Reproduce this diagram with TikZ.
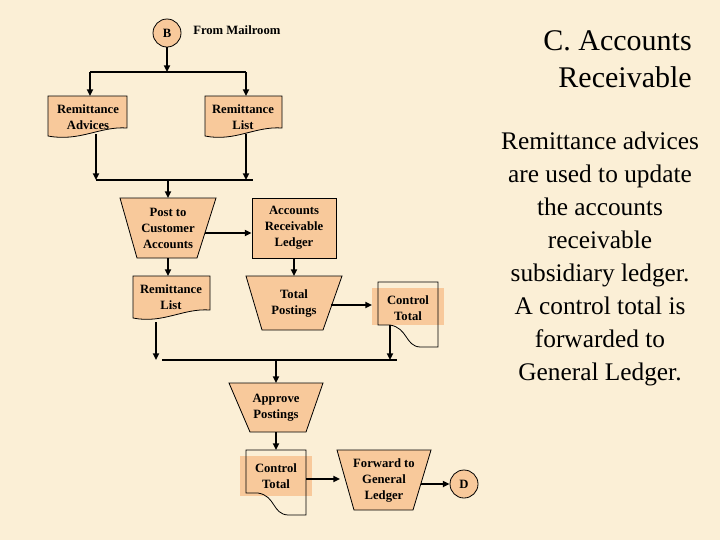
\documentclass[tikz,border=0pt]{standalone}
\usepackage{fontspec}
\setmainfont{Liberation Serif}
\usetikzlibrary{arrows.meta}
\definecolor{bg}{HTML}{FBEFD6}
\definecolor{fillc}{HTML}{F8C99B}
\begin{document}
\begin{tikzpicture}[x=0.75pt,y=-0.75pt,
  lbl/.style={font=\bfseries\fontsize{9.5}{12}\selectfont,align=center,inner sep=0pt},
  shp/.style={draw=black,fill=fillc,line width=0.6pt},
  outl/.style={draw=black,line width=0.6pt},
  ar/.style={line width=1.3pt,-{Triangle[length=5pt,width=4.5pt]}},
  ln/.style={line width=1.3pt},
  bus/.style={line width=0.9pt}]
\fill[bg] (0,0) rectangle (720,540);
\useasboundingbox (0,0) rectangle (720,540);
% circles
\node[shp,circle,minimum size=21pt,lbl] (B) at (167,33) {B};
\node[lbl,anchor=west] (fm) at (193,30) {From Mailroom};
\node[shp,circle,minimum size=21pt,lbl] (D) at (464,484) {D};
% docs
\filldraw[shp] (48,96) -- (127,96) -- (127,128) .. controls (100,126) and (80,142) .. (48,136) -- cycle;
\node[lbl,minimum width=59pt,minimum height=24pt] (ra) at (88,117) {Remittance\\Advices};
\filldraw[shp] (205,96) -- (282,96) -- (282,128) .. controls (255,126) and (235,142) .. (205,136) -- cycle;
\node[lbl,minimum width=58pt,minimum height=24pt] (rl) at (243,117) {Remittance\\List};
\filldraw[shp] (133,276) -- (210,276) -- (210,310) .. controls (183,308) and (163,324) .. (133,318) -- cycle;
\node[lbl,minimum width=58pt,minimum height=24pt] (rl2) at (171,297) {Remittance\\List};
% trapezoids
\filldraw[shp] (120,198) -- (216,198) -- (197,258) -- (137,258) -- cycle;
\node[lbl,minimum width=72pt,minimum height=45pt] (post) at (168,228) {Post to\\Customer\\Accounts};
\filldraw[shp] (246,276) -- (342,276) -- (323,330) -- (262,330) -- cycle;
\node[lbl,minimum width=72pt,minimum height=40pt] (tp) at (294,303) {Total\\Postings};
\filldraw[shp] (229,383) -- (323,383) -- (306,432) -- (250,432) -- cycle;
\node[lbl,minimum width=70pt,minimum height=37pt] (ap) at (276,408) {Approve\\Postings};
\filldraw[shp] (337,450) -- (431,450) -- (413,510) -- (354,510) -- cycle;
\node[lbl,minimum width=70pt,minimum height=45pt] (fw) at (384,480) {Forward to\\General\\Ledger};
% ledger box
\node[shp,lbl,minimum width=63pt,minimum height=45pt] (arl) at (294,228) {Accounts\\Receivable\\Ledger};
% control totals
\fill[fillc] (372,288) rectangle (444,325);
\draw[outl] (378,325) -- (378,282) -- (438,282) -- (438,347) -- (420,347) .. controls (405,346) and (408,328) .. (390,325) -- cycle;
\node[lbl,minimum width=45pt,minimum height=40pt] (ct) at (408,308) {Control\\Total};
\fill[fillc] (240,456) rectangle (312,496);
\draw[outl] (246,493) -- (246,450) -- (306,450) -- (306,515) -- (288,515) .. controls (272,514) and (276,496) .. (258,493) -- cycle;
\node[lbl,minimum width=45pt,minimum height=40pt] (ct2) at (276,476) {Control\\Total};
% connectors
\coordinate (j1) at (167,72);
\draw[ar] (B) -- (j1);
\draw[bus] (90,72) -- (246,72);
\draw[ar] (90,72) -- (90,96);
\draw[ar] (246,72) -- (246,96);
\coordinate (j2) at (168,180);
\draw[ar] (96,134) -- (96,180);
\draw[ar] (246,134) -- (246,180);
\draw[bus] (96,180) -- (253,180);
\draw[ar] (j2) -- (post.north |- 0,198);
\draw[ar] (205,233) -- (arl.west |- 0,233);
\draw[ar] (arl.south) -- (294,276);
\draw[ar] (331,305) -- (372,305);
\draw[ar] (post.south |- 0,258) -- (168,276);
\coordinate (j3) at (276,360);
\draw[ar] (156,322) -- (156,360);
\draw[ar] (390,325) -- (390,360);
\draw[bus] (162,360) -- (397,360);
\draw[ar] (j3) -- (276,383);
\draw[ar] (276,432) -- (276,450);
\draw[ar] (306,479) -- (340,479);
\draw[ar] (421,484) -- (D.west);
% text
\node[font=\fontsize{22.5}{28}\selectfont,align=right,anchor=north east,inner sep=0pt] (title) at (692,30) {C. Accounts\\Receivable};
\node[font=\fontsize{19}{24.8}\selectfont,align=center,inner sep=0pt] (body) at (600,259) {Remittance advices\\are used to update\\the accounts\\receivable\\subsidiary ledger.\\A control total is\\forwarded to\\General Ledger.};
\end{tikzpicture}
\end{document}
